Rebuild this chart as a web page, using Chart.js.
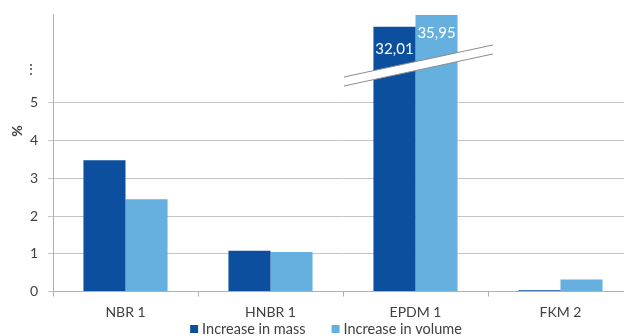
<!DOCTYPE html>
<html>
<head>
<meta charset="utf-8">
<script src="https://cdn.jsdelivr.net/npm/chart.js@4/dist/chart.umd.min.js"></script>
<style>
  html, body { margin: 0; padding: 0; background: #fff; overflow: hidden; }
  #wrap { width: 624px; height: 336px; overflow: hidden; position: relative; }
  #swellChart { position: absolute; left: 0; top: 0; }
</style>
</head>
<body>
<div id="wrap"><canvas id="swellChart" width="633" height="336"></canvas></div>
<script>
const categories = ['NBR 1', 'HNBR 1', 'EPDM 1', 'FKM 2'];
const massIncrease = [3.48, 1.08, 32.01, 0.03];
const volumeIncrease = [2.45, 1.05, 35.95, 0.32];
const tickValues = [0, 1, 2, 3, 4, 5, 5.88];
const seriesNames = ['Increase in mass', 'Increase in volume'];
const colors = ['#0c4f9e', '#65b0de'];

// broken axis: values above the break are squeezed into the top band
const BREAK_FROM = 20, BREAK_AT = 6.075, BREAK_SCALE = 0.0787;
const toAxis = v => v <= 6 ? v : BREAK_AT + (v - BREAK_FROM) * BREAK_SCALE;
const fmt = v => v.toFixed(2).replace('.', ',');

const FONT = 'Lato, "Open Sans", sans-serif';
Chart.defaults.font.family = FONT;
Chart.defaults.font.size = 14;
Chart.defaults.color = '#404040';

const extras = {
  id: 'extras',
  afterDatasetsDraw(chart) {
    const { ctx, scales: { x, y } } = chart;
    // value labels for the broken bars
    ctx.save();
    ctx.font = '15px ' + FONT;
    ctx.fillStyle = '#fff';
    ctx.textAlign = 'center';
    ctx.textBaseline = 'middle';
    const drop = [22, 18.5];
    chart.data.datasets.forEach((ds, di) => {
      const meta = chart.getDatasetMeta(di);
      ds.raw.forEach((v, i) => {
        if (v > 6) {
          const bar = meta.data[i];
          ctx.fillText(fmt(v), bar.x, bar.y + drop[di]);
        }
      });
    });
    // break band across the tall group
    const xl = x.getPixelForValue(2) - x.width / 8 + 1;
    const xr = xl + 149;
    const yl = y.getPixelForValue(5.57), yr = y.getPixelForValue(6.42);
    ctx.beginPath();
    ctx.moveTo(xl, yl - 4.5); ctx.lineTo(xr, yr - 4.5);
    ctx.lineTo(xr, yr + 4.5); ctx.lineTo(xl, yl + 4.5);
    ctx.closePath();
    ctx.fillStyle = '#fff';
    ctx.fill();
    ctx.strokeStyle = '#8c8c8c';
    ctx.lineWidth = 1;
    ctx.beginPath();
    ctx.moveTo(xl, yl - 4.5); ctx.lineTo(xr, yr - 4.5);
    ctx.moveTo(xl, yl + 4.5); ctx.lineTo(xr, yr + 4.5);
    ctx.stroke();
    ctx.restore();
  },
  afterDraw(chart) {
    const { ctx } = chart;
    ctx.save();
    // axis title
    ctx.font = 'bold 14px ' + FONT;
    ctx.fillStyle = '#404040';
    ctx.textAlign = 'center';
    ctx.textBaseline = 'middle';
    ctx.translate(17, 131);
    ctx.rotate(-Math.PI / 2);
    ctx.fillText('%', 0, 0);
    ctx.setTransform(1, 0, 0, 1, 0, 0);
    // legend
    ctx.font = '14.5px ' + FONT;
    ctx.textAlign = 'left';
    const gap = 26, box = 8, pad = 4, cy = 329;
    const widths = seriesNames.map(n => box + pad + ctx.measureText(n).width);
    const total = widths.reduce((a, b) => a + b, 0) + gap;
    let cx = 326 - total / 2;
    seriesNames.forEach((n, i) => {
      ctx.fillStyle = colors[i];
      ctx.fillRect(cx, cy - box / 2, box, box);
      ctx.fillStyle = '#404040';
      ctx.fillText(n, cx + box + pad, cy);
      cx += widths[i] + gap;
    });
    ctx.restore();
  }
};

new Chart(document.getElementById('swellChart'), {
  type: 'bar',
  data: {
    labels: categories,
    datasets: [massIncrease, volumeIncrease].map((vals, i) => ({
      label: seriesNames[i],
      raw: vals,
      data: vals.map(toAxis),
      backgroundColor: colors[i],
      borderWidth: 0,
      barPercentage: 1,
      categoryPercentage: 0.58,
    })),
  },
  options: {
    responsive: false,
    animation: false,
    layout: { padding: { top: 14, right: 0, bottom: 0, left: 0 } },
    plugins: { legend: { display: false }, tooltip: { enabled: false } },
    scales: {
      x: {
        afterFit: scale => { scale.height = 44.5; },
        grid: {
          offset: true,
          drawOnChartArea: false,
          drawTicks: true,
          tickLength: 5,
          color: '#b0b0b0',
        },
        border: { color: '#b0b0b0' },
        ticks: { padding: 8 },
      },
      y: {
        min: 0,
        max: 7.36,
        afterBuildTicks: scale => { scale.ticks = tickValues.map(v => ({ value: v })); },
        afterFit: scale => {
          scale.width = 53;
          scale.paddingTop = 0;
          scale.paddingBottom = 0;
        },
        ticks: {
          padding: 10,
          callback: v => v > 5 ? '\u22EE' : String(v),
        },
        grid: {
          tickLength: 5,
          color: ctx => ctx.tick && ctx.tick.value > 5 ? 'rgba(0,0,0,0)' : '#c4c4c4',
        },
        border: { color: '#b0b0b0' },
      },
    },
  },
  plugins: [extras],
});
</script>
</body>
</html>
